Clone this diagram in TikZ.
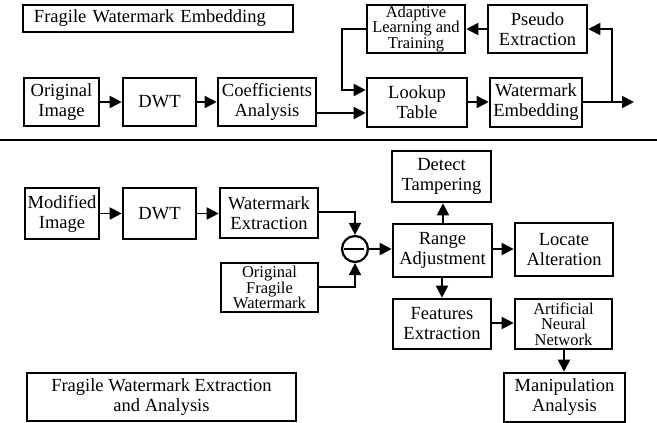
\documentclass[tikz,border=0pt]{standalone}
\usepackage{fontspec}
\setmainfont{Liberation Serif}
\newfontfamily\diagfont{Liberation Serif}
\usetikzlibrary{arrows.meta}
\begin{document}
\begin{tikzpicture}[x=1pt,y=-1pt,
  box/.style={draw, line width=2.6pt, rectangle, inner sep=0pt, align=center,
    font=\diagfont\fontsize{18.5}{20}\selectfont},
  smallbox/.style={box, font=\diagfont\fontsize{16.5}{15.5}\selectfont},
  arr/.style={line width=1.9pt, -{Triangle[length=12pt,width=12pt]}},
  ln/.style={line width=1.9pt}]
\useasboundingbox (0,0) rectangle (657,423);
% ---------- top: embedding ----------
\node[box, line width=2pt, minimum width=270, minimum height=27, text width=248, inner xsep=11pt, align=left]
  (t1) at (158,18.5) {Fragile Watermark Embedding};
\node[box, minimum width=75, minimum height=48] (orig) at (61.5,102) {Original\\Image};
\node[box, minimum width=73, minimum height=48] (dwta) at (159.5,102) {DWT};
\node[box, minimum width=98, minimum height=48] (coef) at (267,102) {Coefficients\\Analysis};
\node[smallbox, minimum width=98, minimum height=48] (adapt) at (416,29) {Adaptive\\Learning and\\Training};
\node[box, minimum width=99, minimum height=48] (pseudo) at (537.5,29) {Pseudo\\Extraction};
\node[box, minimum width=100, minimum height=49] (lookup) at (417,102.5) {Lookup\\Table};
\node[box, minimum width=92, minimum height=49] (wmemb) at (536,102.5) {Watermark\\Embedding};
\coordinate (out) at (634,102);
\coordinate (br) at (612,102);

\draw[arr] (orig.east) -- (dwta.west);
\draw[arr] (dwta.east) -- (coef.west);
\draw[arr] (coef.east |- 0,113) -- (lookup.west |- 0,113);
\draw[arr] (adapt.west) -- (342,29) -- (342,90) -- (lookup.west |- 0,90);
\draw[arr] (lookup.east |- 0,102) -- (wmemb.west |- 0,102);
\draw[arr] (wmemb.east |- out) -- (out);
\draw[arr] (br) -- (br |- pseudo.east) -- (pseudo.east);
\draw[arr] (pseudo.west) -- (adapt.east);

% separator
\draw[line width=2pt] (0,139.5) -- (657,139.5);

% ---------- bottom: extraction ----------
\node[box, minimum width=74, minimum height=51] (mod) at (62,213.5) {Modified\\Image};
\node[box, minimum width=73, minimum height=51] (dwtb) at (159.5,213.5) {DWT};
\node[box, minimum width=98, minimum height=50] (wext) at (269,213) {Watermark\\Extraction};
\node[smallbox, minimum width=97, minimum height=49] (ofw) at (269.5,287.5) {Original\\Fragile\\Watermark};
\node[circle, draw, line width=2.2pt, minimum size=26pt, inner sep=0pt] (sub) at (355,249) {};
\draw[line width=1.9pt] ([xshift=-11pt]sub.center) -- ([xshift=9pt]sub.center);
\node[box, minimum width=99, minimum height=51] (detect) at (441.5,176.5) {Detect\\Tampering};
\node[box, minimum width=99, minimum height=53] (range) at (442.5,250.5) {Range\\Adjustment};
\node[box, minimum width=98, minimum height=53] (locate) at (564,249.5) {Locate\\Alteration};
\node[box, minimum width=98, minimum height=50] (feat) at (442,324) {Features\\Extraction};
\node[smallbox, minimum width=97, minimum height=50] (ann) at (563.5,324) {Artificial\\Neural\\Network};
\node[box, minimum width=121, minimum height=49] (manip) at (564.5,397.5) {Manipulation\\Analysis};
\node[box, line width=2.2pt, minimum width=269, minimum height=48] (t2) at (161.5,397) {Fragile Watermark Extraction\\and Analysis};

\draw[arr] (mod.east) -- (dwtb.west);
\draw[arr] (dwtb.east) -- (wext.west |- dwtb.east);
\draw[arr] (wext.east |- 0,212) -- (sub.north |- 0,212) -- (sub.north);
\draw[arr] (ofw.east |- 0,287) -- (sub.south |- 0,287) -- (sub.south);
\draw[arr] (sub.east) -- (range.west |- sub.east);
\draw[arr] (range.north -| 443,0) -- (detect.south -| 443,0);
\draw[arr] (range.east |- 0,249) -- (locate.west |- 0,249);
\draw[arr] (range.south -| 442,0) -- (feat.north -| 442,0);
\draw[arr] (feat.east |- 0,323) -- (ann.west |- 0,323);
\draw[arr] (ann.south -| 564,0) -- (manip.north -| 564,0);
\end{tikzpicture}
\end{document}
